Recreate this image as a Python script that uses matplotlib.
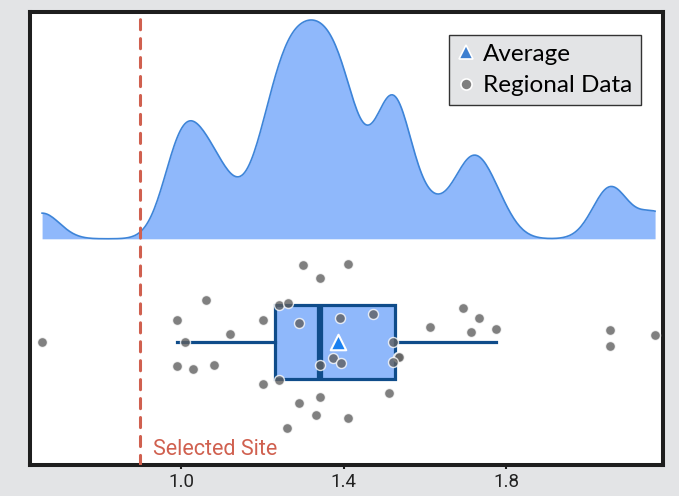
import numpy as np
import matplotlib.pyplot as plt
from matplotlib.lines import Line2D

# regional data: measured value and vertical jitter (box half-height = 1)
values = [0.658, 1.061, 0.990, 1.010, 1.121, 0.990, 1.030, 1.080,
          1.301, 1.412, 1.341, 1.242, 1.263, 1.201, 1.291, 1.392, 1.472,
          1.523, 1.534, 1.536, 1.522, 1.341, 1.373, 1.393, 1.201, 1.242,
          1.513, 1.341, 1.291, 1.332, 1.412, 1.262,
          1.613, 1.694, 1.734, 1.714, 1.775, 2.057, 2.057, 2.167]
jitter = [0.00, 1.14, 0.61, 0.00, 0.22, -0.64, -0.71, -0.62,
          2.08, 2.12, 1.73, 1.02, 1.05, 0.61, 0.53, 0.65, 0.77,
          0.00, -0.39, -0.41, -0.53, -0.61, -0.43, -0.56, -1.13, -1.03,
          -1.36, -1.49, -1.65, -1.96, -2.06, -2.33,
          0.42, 0.93, 0.67, 0.29, 0.36, 0.32, -0.10, 0.20]
selected_site = 0.9
x_ticks = [1.0, 1.4, 1.8]
x_tick_labels = ['1.0', '1.4', '1.8']
bandwidth = 0.043

BOX_FILL = '#8fb8fb'
DARK_BLUE = '#0f4c8a'
RED = '#d0604f'
GREY_BG = '#e3e4e6'


def gaussian_kde(data, grid, bw):
    d = (grid[:, None] - np.asarray(data)[None, :]) / bw
    return np.exp(-0.5 * d ** 2).sum(axis=1) / (len(data) * bw * np.sqrt(2 * np.pi))


fig = plt.figure(figsize=(6.79, 4.96), dpi=100, facecolor=GREY_BG)
ax = fig.add_axes([30.3 / 679, (496 - 465) / 496, (663 - 30.3) / 679, (465 - 11.5) / 496])
ax.set_facecolor('white')

# density "cloud" above the box
grid = np.linspace(min(values), max(values), 400)
dens = gaussian_kde(values, grid, bandwidth)
base = 2.80
curve = base + dens / dens.max() * 5.92
ax.fill_between(grid, base, curve, color=BOX_FILL, lw=0, zorder=1)
ax.plot(grid, curve, color='#3d84d8', lw=1.2, zorder=1.5)

# box plot
ax.boxplot(values, orientation='horizontal', positions=[0], widths=2,
           patch_artist=True, showfliers=False, showcaps=False,
           boxprops=dict(facecolor=BOX_FILL, edgecolor=DARK_BLUE, linewidth=2.3),
           medianprops=dict(color=DARK_BLUE, linewidth=4.5),
           whiskerprops=dict(color=DARK_BLUE, linewidth=2.3),
           zorder=2)

# jittered points
ax.scatter(values, jitter, s=52, color='#606060', edgecolors='white',
           linewidths=1.0, alpha=0.8, zorder=3)

# average
ax.scatter([np.mean(values)], [0], marker='^', s=125, color='#1a80f0',
           edgecolors='white', linewidths=1.5, zorder=4)

# selected site
ax.axvline(selected_site, color=RED, lw=2.2, dashes=(3.3, 2.9),
           dash_capstyle='round', zorder=5)
ax.text(selected_site + 0.03, -3.06, 'Selected Site', color=RED,
        fontsize=15.5, family='Roboto', va='baseline', ha='left')

ax.set_xlim(0.629, 2.1865)
ax.set_ylim(-3.32, 8.95)
ax.set_xticks(x_ticks)
ax.set_xticklabels(x_tick_labels, family='Roboto', fontsize=13.5, color='#222222')
ax.set_yticks([])
ax.tick_params(axis='x', length=3, width=1.5, color='#1e1e1e', pad=3)
for sp in ax.spines.values():
    sp.set_linewidth(2.9)
    sp.set_color('#1e1e1e')

handles = [
    Line2D([], [], marker='^', ls='none', markersize=10, color='#3d7fd0',
           markeredgecolor='white', markeredgewidth=1.2, label='Average'),
    Line2D([], [], marker='o', ls='none', markersize=8, color='#7f7f7f',
           markeredgecolor='white', markeredgewidth=1.2, label='Regional Data'),
]
leg = ax.legend(handles=handles, loc='upper right',
                bbox_to_anchor=((641 - 30.3) / 632.7, 1 - (35 - 11.5) / 453.5),
                borderaxespad=0, frameon=True, fancybox=False, framealpha=1,
                facecolor=GREY_BG, edgecolor='#333333',
                prop={'family': 'Lato', 'size': 17.5},
                handlelength=0.7, handletextpad=0.35, labelspacing=0.45,
                borderpad=0.35)
leg.get_frame().set_linewidth(1.0)

fig.savefig('out.png', dpi=100, facecolor=GREY_BG)
